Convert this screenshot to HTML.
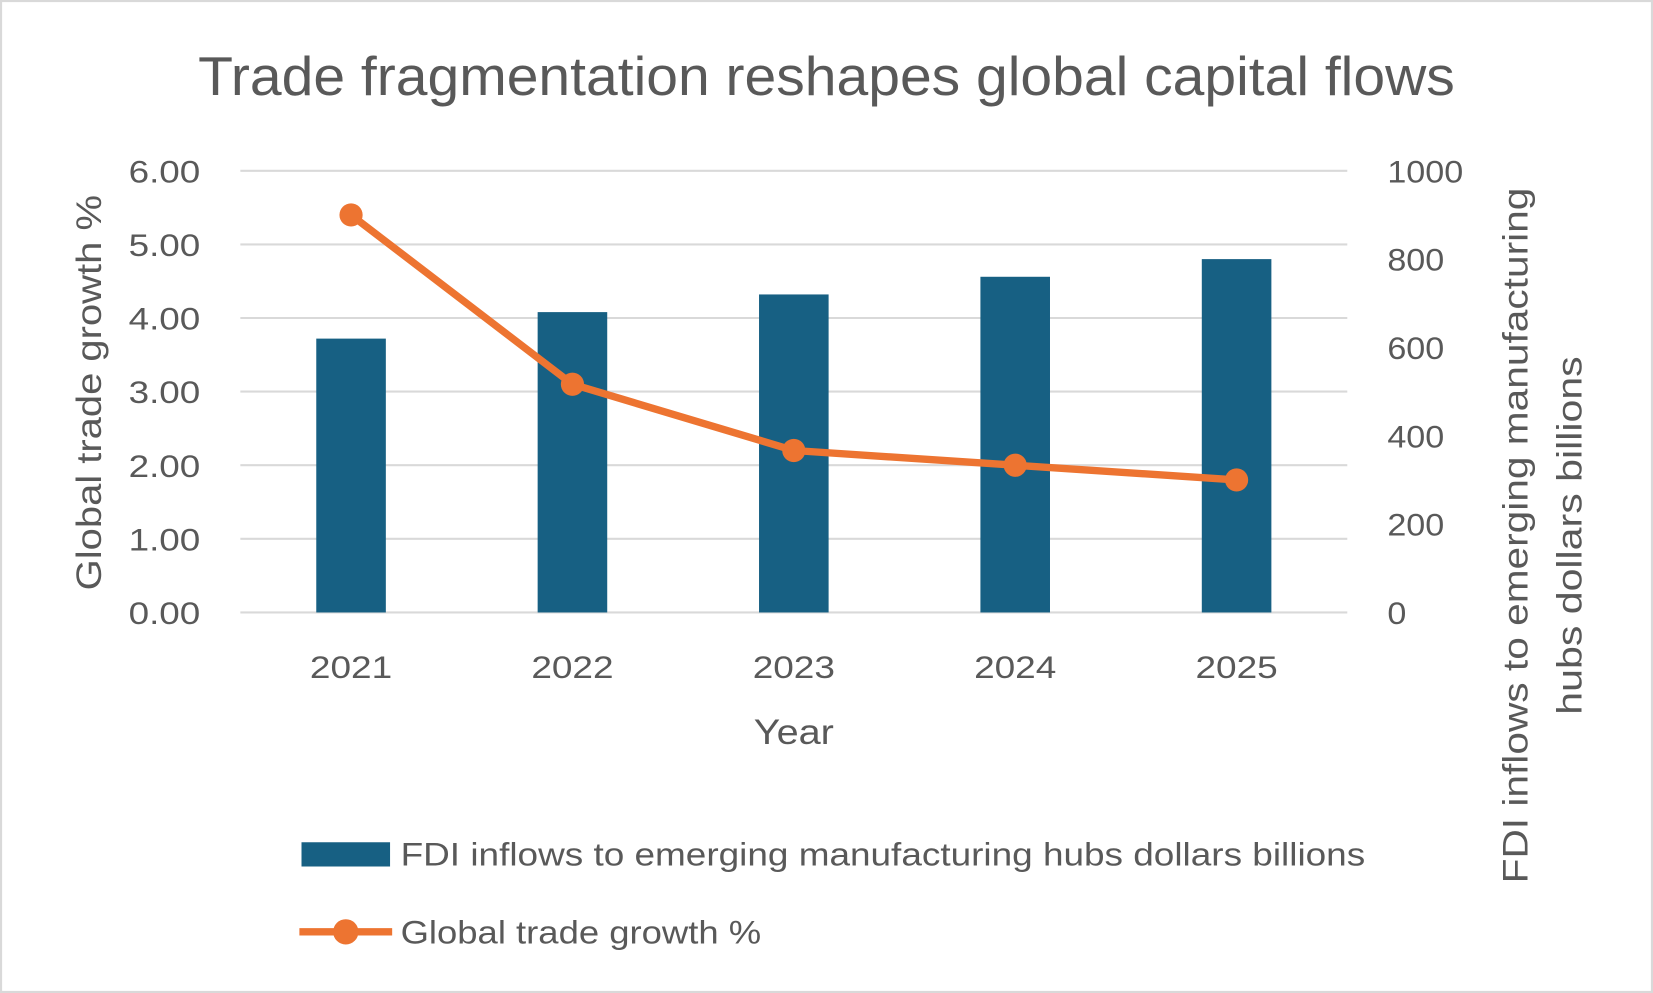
<!DOCTYPE html>
<html><head><meta charset="utf-8"><style>
html,body{margin:0;padding:0;background:#fff;}
svg{display:block;font-family:"Liberation Sans",sans-serif;}
</style></head><body>
<svg id="chart" width="1653" height="993" viewBox="0 0 1568 942" preserveAspectRatio="none">
<rect x="1" y="1" width="1566" height="940" fill="#fff" stroke="#d9d9d9" stroke-width="2"/>
<text x="188" y="90" textLength="1192" lengthAdjust="spacingAndGlyphs" font-size="52" fill="#595959">Trade fragmentation reshapes global capital flows</text>
<g id="grid"></g><g id="bars"></g><g id="line"></g><g id="axes"></g>
<text transform="translate(96,560) rotate(-90)" textLength="375" lengthAdjust="spacingAndGlyphs" font-size="33" fill="#595959">Global trade growth %</text>
<text transform="translate(1449,838) rotate(-90)" textLength="660" lengthAdjust="spacingAndGlyphs" font-size="33" fill="#595959">FDI inflows to emerging manufacturing</text>
<text transform="translate(1500,678) rotate(-90)" textLength="340" lengthAdjust="spacingAndGlyphs" font-size="33" fill="#595959">hubs dollars billions</text>
<text x="715" y="706" textLength="76" lengthAdjust="spacingAndGlyphs" font-size="33" fill="#595959">Year</text>
<g>
<rect x="286" y="799" width="84" height="23" fill="#176083"/>
<text x="380" y="821" textLength="915" lengthAdjust="spacingAndGlyphs" font-size="31" fill="#595959">FDI inflows to emerging manufacturing hubs dollars billions</text>
</g>
<g>
<line x1="284" y1="884" x2="372" y2="884" stroke="#ed7431" stroke-width="7"/>
<circle cx="328" cy="884" r="12" fill="#ed7431"/>
<text x="380" y="895" textLength="342" lengthAdjust="spacingAndGlyphs" font-size="31" fill="#595959">Global trade growth %</text>
</g>
</svg>
<script>
const categories=["2021","2022","2023","2024","2025"];
const fdiValues=[620,680,720,760,800];
const tradeValues=[5.4,3.1,2.2,2.0,1.8];
const leftTicks=["0.00","1.00","2.00","3.00","4.00","5.00","6.00"];
const rightTicks=["0","200","400","600","800","1000"];
const NS="http://www.w3.org/2000/svg";
const x0=228,x1=1278,yB=581,yT=162;
const band=(x1-x0)/categories.length;
const xs=i=>x0+band*(i+0.5);
const yL=v=>yB-(v/6)*(yB-yT);
const yR=v=>yB-(v/1000)*(yB-yT);
function mk(tag,attrs,parent){const e=document.createElementNS(NS,tag);for(const k in attrs)e.setAttribute(k,attrs[k]);document.getElementById(parent).appendChild(e);return e;}
leftTicks.forEach((t,i)=>{const v=parseFloat(t);
const l=mk('line',{x1:x0,x2:x1,y1:yL(v),y2:yL(v),stroke:'#d9d9d9','stroke-width':2},'grid');


const tx=mk('text',{x:122,y:yL(v)+11,textLength:68,lengthAdjust:'spacingAndGlyphs','font-size':30,fill:'#595959'},'axes');tx.textContent=t;

});
rightTicks.forEach(t=>{const v=parseFloat(t);
const tx=mk('text',{x:1316,y:yR(v)+11,textLength:18*t.length,lengthAdjust:'spacingAndGlyphs','font-size':30,fill:'#595959'},'axes');tx.textContent=t;

});
categories.forEach((c,i)=>{
const tx=mk('text',{x:xs(i)-39,y:643,textLength:78,lengthAdjust:'spacingAndGlyphs','font-size':30,fill:'#595959'},'axes');tx.textContent=c;


const b=mk('rect',{x:xs(i)-33,y:yR(fdiValues[i]),width:66,height:yB-yR(fdiValues[i]),fill:'#176083'},'bars');

});
const pl=mk('polyline',{points:tradeValues.map((v,i)=>xs(i)+','+yL(v)).join(' '),fill:'none',stroke:'#ed7431','stroke-width':7,'stroke-linejoin':'round'},'line');


tradeValues.forEach((v,i)=>{const p=mk('circle',{cx:xs(i),cy:yL(v),r:11,fill:'#ed7431'},'line');

});
</script>
</body></html>
